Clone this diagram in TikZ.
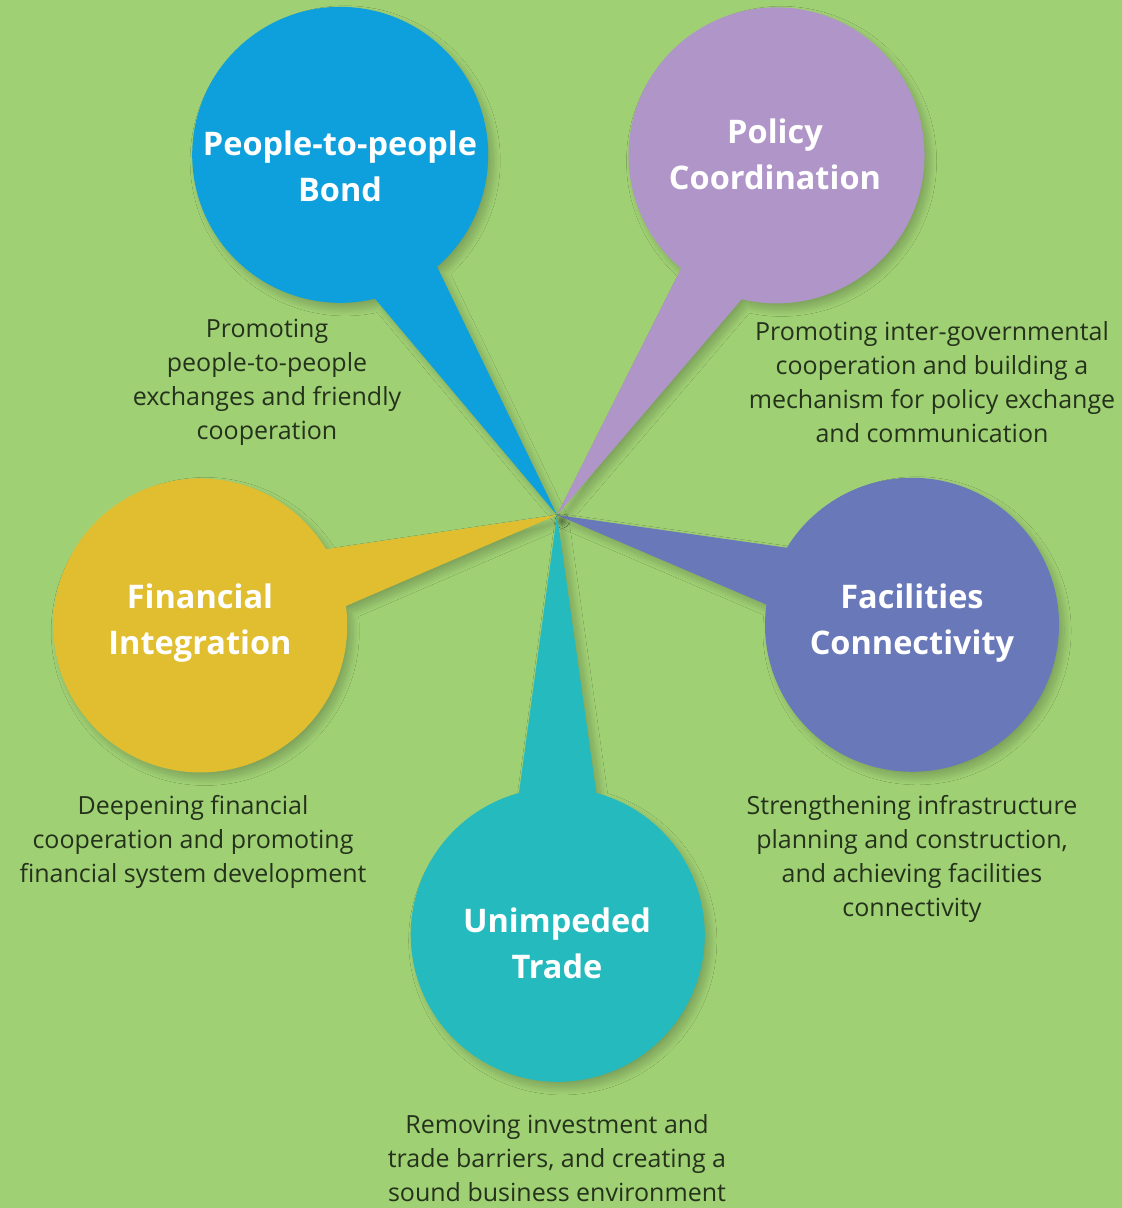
\documentclass[tikz,border=0pt]{standalone}
\usepackage{fontspec}
\setmainfont{Open Sans}
\usetikzlibrary{calc,shadows.blur}
\definecolor{bggreen}{RGB}{160,208,116}
\definecolor{cblue}{RGB}{13,160,220}
\definecolor{cpurple}{RGB}{176,150,200}
\definecolor{cgold}{RGB}{224,190,48}
\definecolor{cindigo}{RGB}{104,120,184}
\definecolor{cteal}{RGB}{36,186,190}
\definecolor{textdark}{RGB}{36,50,28}
\pgfdeclarelayer{bubbles}
\pgfsetlayers{bubbles,main}
\tikzset{
  hubcircle/.style={circle, minimum size=#1, inner sep=0pt, outer sep=0pt},
  titletext/.style={text=white, font=\fontsize{32.5}{46}\selectfont\bfseries, align=center},
  desctext/.style={text=textdark, font=\fontsize{25}{34}\selectfont, align=center, inner sep=1pt},
  bubble/.style={blur shadow={shadow xshift=5pt, shadow yshift=-6pt, shadow blur radius=7pt, shadow blur steps=24, shadow opacity=22}},
}
\begin{document}
\begin{tikzpicture}[x=1pt,y=1pt]
\useasboundingbox (0,0) rectangle (1122,-1208);
\coordinate (hub) at (557,-515);
% circles
\node[hubcircle=296pt] (pp) at (340,-155) {};
\node[hubcircle=296pt] (pc) at (775,-155) {};
\node[hubcircle=294pt] (fi) at (200,-625) {};
\node[hubcircle=294pt] (fc) at (912,-625) {};
\node[hubcircle=294pt] (ut) at (557,-935) {};
% titles
\node[titletext] (ppt) at ($(pp)+(0,-11)$) {People-to-people\\Bond};
\node[titletext] (pct) at ($(pc)+(0,1)$) {Policy\\Coordination};
\node[titletext] (fit) at ($(fi)+(0,2)$) {Financial\\Integration};
\node[titletext] (fct) at ($(fc)+(0,2)$) {Facilities\\Connectivity};
\node[titletext] (utt) at ($(ut)+(0,-8)$) {Unimpeded\\Trade};
% descriptions
\node[desctext] (ppd) at (267,-382) {Promoting\\people-to-people\\exchanges and friendly\\cooperation};
\node[desctext] (pcd) at (932,-382) {Promoting inter-governmental\\cooperation and building a\\mechanism for policy exchange\\and communication};
\node[desctext] (fid) at (193,-842) {Deepening financial\\cooperation and promoting\\financial system development};
\node[desctext] (fcd) at (912,-859) {Strengthening infrastructure\\planning and construction,\\and achieving facilities\\connectivity};
\node[desctext] (utd) at (557,-1158) {Removing investment and\\trade barriers, and creating a\\sound business environment};
\begin{pgfonlayer}{bubbles}
\fill[bggreen] (0,0) rectangle (1122,-1208);
\fill[cblue, bubble] (hub) -- (pp.-49.1) arc[start angle=-49.1, end angle=283.6, radius=148] -- cycle;
\fill[cpurple, bubble] (hub) -- (pc.-103.6) arc[start angle=-103.6, end angle=229.85, radius=148] -- cycle;
\fill[cgold, bubble] (hub) -- (fi.31.2) arc[start angle=31.2, end angle=367.6, radius=147] -- cycle;
\fill[cindigo, bubble] (hub) -- (fc.172.1) arc[start angle=172.1, end angle=508.4, radius=147] -- cycle;
\fill[cteal, bubble] (hub) -- (ut.105.3) arc[start angle=105.3, end angle=434.8, radius=147] -- cycle;
\end{pgfonlayer}
\end{tikzpicture}
\end{document}
